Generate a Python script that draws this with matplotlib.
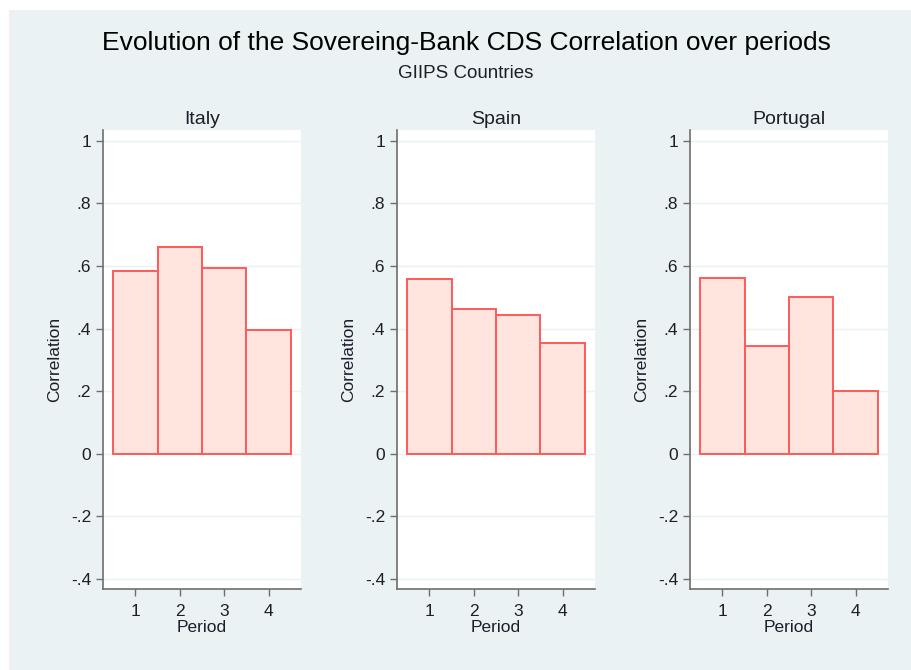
import matplotlib.pyplot as plt
from matplotlib.patches import Rectangle

plt.rcParams['font.family'] = ['Liberation Sans', 'DejaVu Sans']

# Correlations by period for each country
periods = [1, 2, 3, 4]
countries = ['Italy', 'Spain', 'Portugal']
italy = [0.584, 0.662, 0.593, 0.394]
spain = [0.560, 0.461, 0.443, 0.355]
portugal = [0.563, 0.344, 0.501, 0.201]
yticks = [-0.4, -0.2, 0, 0.2, 0.4, 0.6, 0.8, 1]
ytick_labels = ['-.4', '-.2', '0', '.2', '.4', '.6', '.8', '1']

bg = '#EAF2F3'
fill = '#FFE5DD'
edge = '#FF5A5A'
txt = '#1E1E2A'

fig = plt.figure(figsize=(9.11, 6.70), dpi=100)
fig.patch.set_facecolor('white')

# grey panel with a soft shadow on the left
W, H = 911, 670
for i, a in enumerate([0.04, 0.07, 0.10]):
    fig.patches.append(Rectangle(((8 + i) / W, 0), 1, 1 - 10 / H,
                                 transform=fig.transFigure, color='#B0B0B0',
                                 alpha=a, zorder=-2, lw=0))
fig.patches.append(Rectangle((11 / W, 0), 1, 1 - 10 / H,
                             transform=fig.transFigure, color=bg, zorder=-1, lw=0))

fig.text(466 / W, 1 - 43 / H, 'Evolution of the Sovereing-Bank CDS Correlation over periods',
         ha='center', va='center', fontsize=19, color='black')
fig.text(466 / W, 1 - 73 / H, 'GIIPS Countries', ha='center', va='center',
         fontsize=13.5, color=txt)

lefts = [103, 397, 690]
data = [italy, spain, portugal]
bottom = 1 - 589 / H
height = (589 - 130) / H
width = 198 / W

for name, vals, left in zip(countries, data, lefts):
    ax = fig.add_axes([left / W, bottom, width, height])
    ax.set_facecolor('white')
    ax.bar(periods, vals, width=1.0, color=fill, edgecolor=edge, linewidth=1.4, zorder=3)
    ax.set_xlim(0.27, 4.73)
    ax.set_ylim(-0.433, 1.035)
    ax.set_yticks(yticks)
    ax.set_yticklabels(ytick_labels)
    ax.set_xticks(periods)
    ax.grid(axis='y', color=bg, linewidth=1.0, zorder=0)
    for s in ['top', 'right']:
        ax.spines[s].set_visible(False)
    for s in ['left', 'bottom']:
        ax.spines[s].set_color('#6E6E6E')
        ax.spines[s].set_linewidth(1.2)
    ax.tick_params(axis='both', colors='#6E6E6E', labelcolor=txt, labelsize=12.5,
                   length=5, width=1.0, direction='out')
    ax.tick_params(axis='x', pad=5.5)
    ax.set_title(name, fontsize=14, color=txt, pad=4)
    ax.set_ylabel('Correlation', fontsize=12.5, color=txt, labelpad=6)
    ax.set_xlabel('Period', fontsize=12.5, color=txt, labelpad=1)

fig.savefig('out.png', dpi=100, facecolor=fig.get_facecolor())
